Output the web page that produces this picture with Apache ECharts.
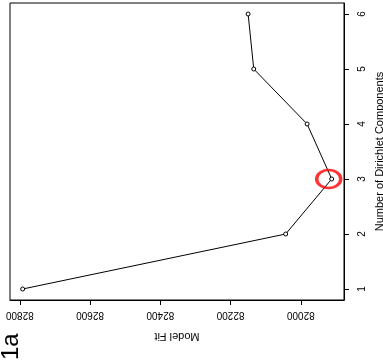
<!DOCTYPE html>
<html>
<head>
<meta charset="utf-8">
<script src="https://cdn.jsdelivr.net/npm/echarts@6/dist/echarts.min.js"></script>
<style>html,body{margin:0;padding:0;background:#fff}#c{width:383px;height:360px}</style>
</head>
<body>
<div id="c"></div>
<script>
var components = [1, 2, 3, 4, 5, 6];
var modelFit = [82792, 82043, 81912, 81982, 82134, 82150];
var fitTicks = [82000, 82200, 82400, 82600, 82800];
var compTicks = [1, 2, 3, 4, 5, 6];
var highlighted = 3;

var FONT = 'Liberation Sans';
var chart = echarts.init(document.getElementById('c'), null, {renderer: 'canvas'});
var lineData = components.map(function (k, i) { return [modelFit[i], k]; });
var hi = components.indexOf(highlighted);
chart.setOption({
  animation: false,
  backgroundColor: '#fff',
  grid: {left: 10, top: 3, right: 39, bottom: 60, show: true, borderColor: '#000', borderWidth: 1,
    containLabel: false, outerBoundsMode: 'none'},
  xAxis: {
    type: 'value', inverse: true, min: 81877, max: 82828, position: 'bottom',
    splitLine: {show: false},
    axisLine: {show: true, lineStyle: {color: '#000', width: 1}},
    axisTick: {show: true, length: 5, lineStyle: {color: '#000'}, customValues: fitTicks},
    axisLabel: {show: true, rotate: 180, margin: 10, fontSize: 10, color: '#000', fontFamily: FONT,
      customValues: fitTicks, formatter: function (v) { return String(v); }},
    name: 'Model Fit', nameLocation: 'middle', nameRotate: 180, nameGap: 31,
    nameTextStyle: {fontSize: 11, color: '#000', fontFamily: FONT}
  },
  yAxis: {
    type: 'value', min: 0.8, max: 6.2, position: 'right',
    splitLine: {show: false},
    axisLine: {show: true, lineStyle: {color: '#000', width: 1}},
    axisTick: {show: true, length: 5, lineStyle: {color: '#000'}, customValues: compTicks},
    axisLabel: {show: true, rotate: 90, margin: 13, fontSize: 10, color: '#000', fontFamily: FONT,
      customValues: compTicks, formatter: function (v) { return String(v); }},
    name: 'Number of Dirichlet Components', nameLocation: 'middle', nameRotate: 90, nameGap: 28,
    nameTextStyle: {fontSize: 11, color: '#000', fontFamily: FONT}
  },
  graphic: [{
    type: 'text', x: -1, y: 360, rotation: Math.PI / 2,
    style: {text: '1a', fontSize: 24, fontFamily: 'Arial', fontWeight: 'normal', fill: '#000', verticalAlign: 'top'}
  }],
  series: [{
    type: 'line', data: lineData,
    symbol: 'circle', symbolSize: 4,
    lineStyle: {color: '#000', width: 1},
    itemStyle: {color: '#fff', borderColor: '#000', borderWidth: 1}
  }, {
    type: 'scatter', data: [lineData[hi]],
    symbol: 'circle', symbolSize: [24, 18], symbolOffset: [-3, 0],
    itemStyle: {color: 'transparent', borderColor: '#ff0000', borderWidth: 3},
    z: 5
  }]
});
</script>
</body>
</html>
